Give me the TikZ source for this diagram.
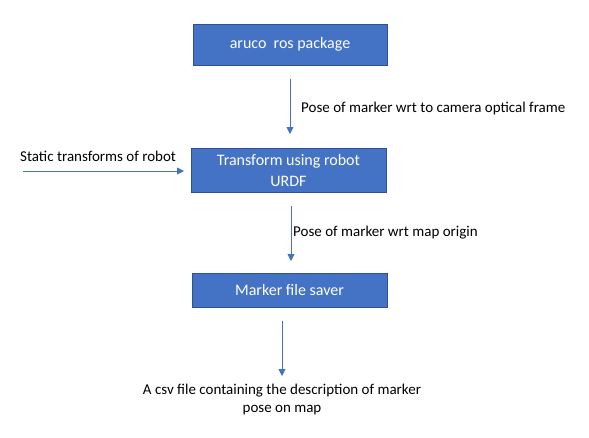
\documentclass[tikz,border=0pt]{standalone}
\usepackage{fontspec}
\setmainfont{Carlito}
\usetikzlibrary{arrows.meta}
\definecolor{boxfill}{HTML}{4472C4}
\definecolor{boxline}{HTML}{2F528F}
\tikzset{
  procbox/.style={draw=boxline, line width=1pt, fill=boxfill, text=white, align=center, inner sep=0pt, font=\fontsize{16}{21}\selectfont},
  flow/.style={draw=boxfill, line width=0.9pt, -{Triangle[length=7pt,width=7pt]}},
  lbl/.style={inner sep=0pt, align=center, font=\fontsize{15}{18}\selectfont},
}
\begin{document}
\begin{tikzpicture}[x=1pt,y=-1pt]
\useasboundingbox (0,0) rectangle (589,437);
\node[procbox, minimum width=194pt, minimum height=41pt] (aruco) at (290,44.5) {aruco\ \ ros package};
\node[procbox, minimum width=195pt, minimum height=44pt] (tf) at (288.5,170) {Transform using robot\\URDF};
\node[procbox, minimum width=195pt, minimum height=34pt] (saver) at (289.5,290) {Marker file saver};

\coordinate (a1s) at (290,79);
\coordinate (a1e) at (290,134);
\coordinate (a2s) at (291,206);
\coordinate (a2e) at (291,261);
\coordinate (a3s) at (282,321);
\coordinate (a3e) at (282,376);
\coordinate (a4s) at (23,171);
\coordinate (a4e) at (184,171);

\draw[flow] (a1s) -- (a1e);
\draw[flow] (a2s) -- (a2e);
\draw[flow] (a3s) -- (a3e);
\draw[flow] (a4s) -- (a4e);

\node[lbl, anchor=west] (l1) at (301,108) {Pose of marker wrt to camera optical frame};
\node[lbl, anchor=west] (l2) at (293,233) {Pose of marker wrt map origin};
\node[lbl, anchor=west] (l4) at (20,156) {Static transforms of robot};
\node[lbl] (out) at (282,399) {A csv file containing the description of marker\\pose on map};
\end{tikzpicture}
\end{document}
